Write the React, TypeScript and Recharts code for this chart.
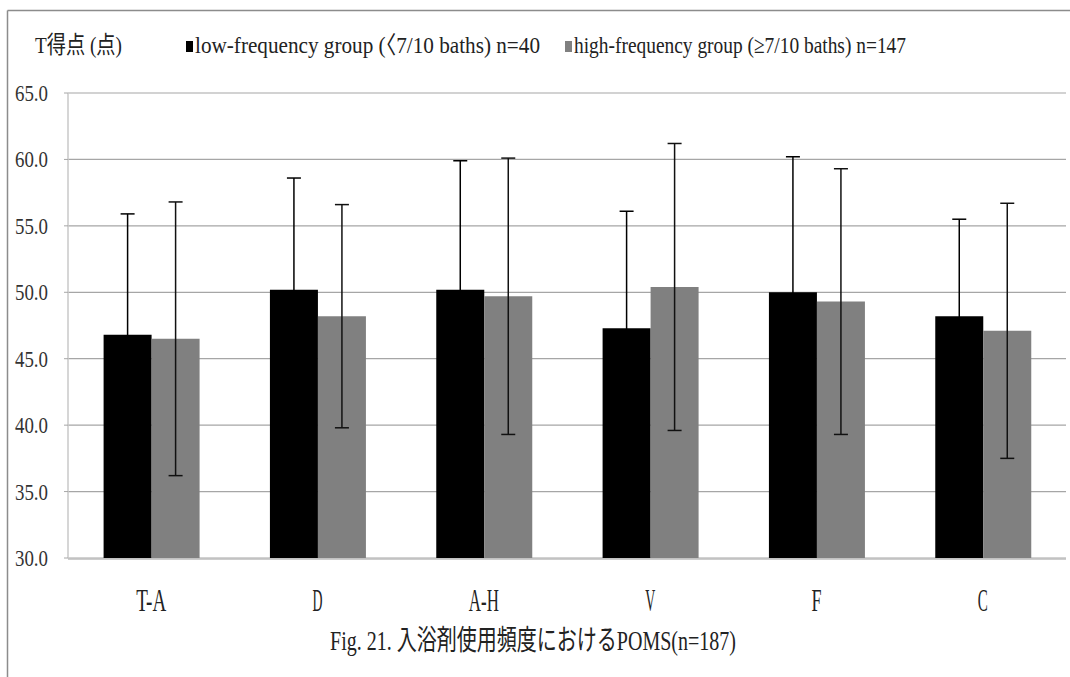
import React from "react";
import { BarChart, Bar, XAxis, YAxis, CartesianGrid, ErrorBar } from "recharts";

// POMS subscales
const categories = ["T-A", "D", "A-H", "V", "F", "C"];

// low-frequency group (<7/10 baths) n=40
const lowMean = [46.8, 50.2, 50.2, 47.3, 50.0, 48.2];
const lowSD = [9.1, 8.4, 9.7, 8.8, 10.2, 7.3];

// high-frequency group (≥7/10 baths) n=147
const highMean = [46.5, 48.2, 49.7, 50.4, 49.3, 47.1];
const highSD = [10.3, 8.4, 10.4, 10.8, 10.0, 9.6];

const yTicks = [30, 35, 40, 45, 50, 55, 60, 65];
const boundaryTicks = [0, 1, 2, 3, 4, 5, 6];

const seriesNames = [
  "low-frequency group (〈7/10 baths) n=40",
  "high-frequency group (≥7/10 baths) n=147",
];
const yTitle = "T得点 (点)";
const caption = "Fig. 21. 入浴剤使用頻度におけるPOMS(n=187)";

const data = categories.map((name, i) => ({
  name,
  low: lowMean[i],
  lowErr: lowSD[i],
  high: highMean[i],
  highErr: highSD[i],
}));

const FONT = "'Liberation Serif', 'Noto Sans CJK JP', serif";

const YTick = (props: any) => {
  const { x, y, payload } = props;
  return (
    <text
      x={x}
      y={y}
      textAnchor="end"
      dominantBaseline="central"
      fontFamily={FONT}
      fontSize={24}
      fill="#333"
      textLength={33}
      lengthAdjust="spacingAndGlyphs"
    >
      {Number(payload.value).toFixed(1)}
    </text>
  );
};

const XTick = (props: any) => {
  const { x, y, payload } = props;
  const label = String(payload.value);
  return (
    <text
      x={x}
      y={y}
      dy={34}
      textAnchor="middle"
      dominantBaseline="central"
      fontFamily={FONT}
      fontSize={32}
      fill="#222"
      textLength={label.length * 10}
      lengthAdjust="spacingAndGlyphs"
    >
      {label}
    </text>
  );
};

export default function App() {
  return (
    <div
      style={{
        position: "absolute",
        left: 0,
        top: 0,
        width: 1070,
        height: 677,
        overflow: "hidden",
        background: "#fff",
      }}
    >
      <div style={{ position: "absolute", left: 0, top: 0 }}>
        <BarChart
          width={1070}
          height={677}
          data={data}
          margin={{ top: 93, right: 4, bottom: 117, left: 8 }}
          barCategoryGap="21.4%"
          barGap={0}
        >
          <CartesianGrid
            xAxisId="cat"
            vertical={false}
            stroke="#a6a6a6"
            strokeWidth={1.2}
          />
          <XAxis
            xAxisId="grid"
            type="number"
            domain={[0, 6]}
            ticks={boundaryTicks}
            height={1}
            tick={false}
            tickSize={9}
            tickLine={{ stroke: "#c4c4c4" }}
            axisLine={{ stroke: "#bdbdbd", strokeWidth: 1.5 }}
          />
          <XAxis
            xAxisId="cat"
            dataKey="name"
            height={1}
            tickLine={false}
            axisLine={false}
            tick={<XTick />}
            interval={0}
          />
          <YAxis
            width={60}
            domain={[30, 65]}
            ticks={yTicks}
            interval={0}
            tickSize={4}
            tickMargin={16}
            tickLine={{ stroke: "#a6a6a6" }}
            axisLine={{ stroke: "#c8c8c8", strokeWidth: 1.5 }}
            tick={<YTick />}
          />
          <Bar
            xAxisId="cat"
            dataKey="low"
            name={seriesNames[0]}
            fill="#000000"
            isAnimationActive={false}
          >
            <ErrorBar
              dataKey="lowErr"
              width={7}
              stroke="#000"
              strokeWidth={1.5}
              direction="y"
              isAnimationActive={false}
            />
          </Bar>
          <Bar
            xAxisId="cat"
            dataKey="high"
            name={seriesNames[1]}
            fill="#808080"
            isAnimationActive={false}
          >
            <ErrorBar
              dataKey="highErr"
              width={7}
              stroke="#111"
              strokeWidth={1.5}
              direction="y"
              isAnimationActive={false}
            />
          </Bar>
        </BarChart>
      </div>

      {/* frame, axis title, legend and caption */}
      <svg
        width={1070}
        height={677}
        style={{ position: "absolute", left: 0, top: 0, pointerEvents: "none" }}
      >
        <line x1={7.5} y1={10.5} x2={1070} y2={10.5} stroke="#8c8c8c" strokeWidth={1.5} />
        <line x1={7.5} y1={10.5} x2={7.5} y2={677} stroke="#8c8c8c" strokeWidth={1.5} />

        <text
          x={35}
          y={45}
          dominantBaseline="central"
          fontFamily={FONT}
          fontSize={24}
          fill="#222"
          textLength={87}
          lengthAdjust="spacingAndGlyphs"
        >
          {yTitle}
        </text>

        <rect x={186} y={41} width={7} height={11} fill="#000" />
        <text
          x={195}
          y={45}
          dominantBaseline="central"
          fontFamily={FONT}
          fontSize={24}
          fill="#222"
          textLength={345}
          lengthAdjust="spacingAndGlyphs"
        >
          {seriesNames[0]}
        </text>

        <rect x={565} y={41} width={7} height={11} fill="#808080" />
        <text
          x={574}
          y={45}
          dominantBaseline="central"
          fontFamily={FONT}
          fontSize={24}
          fill="#222"
          textLength={332}
          lengthAdjust="spacingAndGlyphs"
        >
          {seriesNames[1]}
        </text>

        <text
          x={330}
          y={640}
          dominantBaseline="central"
          fontFamily={FONT}
          fontSize={28}
          fill="#222"
          textLength={406}
          lengthAdjust="spacingAndGlyphs"
        >
          {caption}
        </text>
      </svg>
    </div>
  );
}
